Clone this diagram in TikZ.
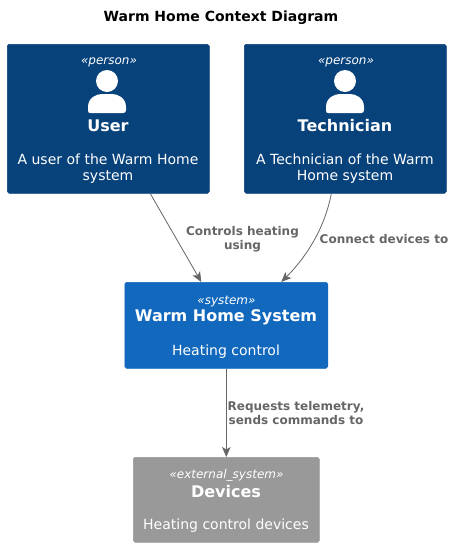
\documentclass[tikz,border=0pt]{standalone}
\usepackage{fontspec}
\setmainfont{DejaVu Sans}
\usetikzlibrary{arrows.meta}
\tikzset{
  boxbase/.style={draw=#1,fill=#1,rounded corners=1.8pt,line width=0.6pt,inner sep=0pt,anchor=north west},
  txt/.style={text=white,inner sep=0pt,align=center,anchor=center},
  stereo/.style={txt,font=\fontsize{12}{14}\selectfont\itshape},
  ttl/.style={txt,font=\fontsize{16}{19}\selectfont\bfseries},
  desc/.style={txt,font=\fontsize{14}{16.3}\selectfont},
  rel/.style={inner sep=0pt,align=center,text=linkgray,font=\fontsize{12}{14}\selectfont\bfseries},
  conn/.style={draw=linkgray,line width=0.8pt,-{Stealth[length=10pt,width=8.5pt,inset=2.5pt]}},
  icon/.style={fill=white,draw=none},
}
\definecolor{linkgray}{HTML}{666666}
\definecolor{persondark}{HTML}{08427B}
\definecolor{sysblue}{HTML}{1168BD}
\definecolor{extgray}{HTML}{999999}
\begin{document}
\begin{tikzpicture}[x=1pt,y=-1pt]
\useasboundingbox (0,0) rectangle (455,547);
\fill[white] (0,0) rectangle (455,547);
\node[inner sep=0pt,font=\fontsize{14}{16}\selectfont\bfseries] (title) at (221,18) {Warm Home Context Diagram};

\node[boxbase=persondark,minimum width=202pt,minimum height=149pt] (user) at (7,44) {};
\node[boxbase=persondark,minimum width=202pt,minimum height=149pt] (tech) at (244,44) {};
\node[boxbase=sysblue,minimum width=203pt,minimum height=86pt] (sys) at (124.5,282) {};
\node[boxbase=extgray,minimum width=186pt,minimum height=85pt] (dev) at (133,457) {};

% User
\node[stereo] (us) at (109,62.5) {«person»};
\fill[icon] (107,81) circle (11);
\fill[icon] (90,113) .. controls (88.5,113) and (88,112) .. (88,110) -- (88,107) .. controls (88,98) and (96,94) .. (102,94) -- (112,94) .. controls (118,94) and (126,98) .. (126,107) -- (126,110) .. controls (126,112) and (125,113) .. (123,113) -- cycle;
\node[ttl] (ut) at (108,126) {User};
\node[desc] (ud) at (108,168.5) {A user of the Warm Home\\system};

% Technician
\node[stereo] (ts) at (346,62.5) {«person»};
\fill[icon] (345,81) circle (11);
\fill[icon] (328,113) .. controls (326.5,113) and (326,112) .. (326,110) -- (326,107) .. controls (326,98) and (334,94) .. (340,94) -- (350,94) .. controls (356,94) and (364,98) .. (364,107) -- (364,110) .. controls (364,112) and (363,113) .. (361,113) -- cycle;
\node[ttl] (tt) at (345,126) {Technician};
\node[desc] (td) at (345,168.5) {A Technician of the Warm\\Home system};

% System
\node[stereo] (ss) at (226.5,301.5) {«system»};
\node[ttl] (st) at (226,317.5) {Warm Home System};
\node[desc] (sd) at (226,352) {Heating control};

% Devices
\node[stereo] (ds) at (226.5,475.5) {«external\_system»};
\node[ttl] (dt) at (226,491.5) {Devices};
\node[desc] (dd) at (226,526) {Heating control devices};

% Connectors
\draw[conn] ([xshift=42pt]user.south) -- ([xshift=-25pt]sys.north);
\draw[conn] ([xshift=-14pt]tech.south) .. controls ([xshift=-20pt,yshift=-32pt]tech.south) and ([xshift=82pt,yshift=27pt]sys.north) .. ([xshift=55pt]sys.north);
\draw[conn] (sys.south) -- (dev.north);

% Labels
\node[rel] (l1) at (242.5,239) {Controls heating\\using};
\node[rel] (l2) at (384,239) {Connect devices to};
\node[rel] (l3) at (296,413) {Requests telemetry,\\sends commands to};
\end{tikzpicture}
\end{document}
